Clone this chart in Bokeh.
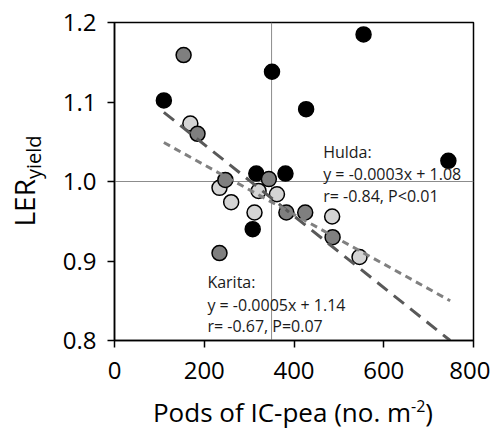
from bokeh.plotting import figure
from bokeh.models import Span, Label, Range1d, FixedTicker, NumeralTickFormatter, Div
from bokeh.layouts import row, column
from bokeh.embed import file_html
from bokeh.resources import INLINE

# ---- data ----
black_x = [110, 351, 555, 427, 744, 381, 316, 308]
black_y = [1.102, 1.138, 1.185, 1.091, 1.026, 1.010, 1.010, 0.940]
dark_x = [154, 185, 247, 344, 383, 425, 486, 234]
dark_y = [1.159, 1.060, 1.002, 1.003, 0.961, 0.961, 0.930, 0.910]
light_x = [169, 234, 260, 321, 362, 312, 485, 546]
light_y = [1.073, 0.992, 0.974, 0.988, 0.984, 0.961, 0.956, 0.905]

fit_x = [110, 748]
karita_fit_y = [1.087, 0.800]
hulda_fit_y = [1.049, 0.850]

x_ticks = [0, 200, 400, 600, 800]
y_ticks = [0.8, 0.9, 1.0, 1.1, 1.2]
ref_x = 350
ref_y = 1.0

hulda_text = ["Hulda:", "y = -0.0003x + 1.08", "r= -0.84, P<0.01"]
hulda_text_x = 465
hulda_text_y = [1.0365, 1.010, 0.982]
karita_text = ["Karita:", "y = -0.0005x + 1.14", "r= -0.67, P=0.07"]
karita_text_x = 207
karita_text_y = [0.874, 0.845, 0.818]

x_label_main = "Pods of IC-pea (no. m"
x_label_sup = "-2"
y_label_main = "LER"
y_label_sub = "yield"

FONT = "Open Sans"
LEFT_W = 50
TOP = 22
FRAME_W = 359
FRAME_H = 318
BOTTOM = 55
RIGHT = 17
FIG_H = TOP + FRAME_H + BOTTOM        # 395
FIG_W = (114 - LEFT_W) + FRAME_W + RIGHT
XLAB_H = 430 - FIG_H                  # 35

p = figure(frame_width=FRAME_W, frame_height=FRAME_H,
           x_range=Range1d(0, 800), y_range=Range1d(0.8, 1.2),
           output_backend="svg", toolbar_location=None,
           min_border_left=114 - LEFT_W, min_border_right=RIGHT,
           min_border_top=TOP, min_border_bottom=BOTTOM)

p.grid.visible = False
p.outline_line_color = "black"
p.outline_line_width = 1.5
p.background_fill_color = "white"
p.border_fill_color = "white"

for ax in (p.xaxis[0], p.yaxis[0]):
    ax.axis_line_color = "black"
    ax.axis_line_width = 1.5
    ax.major_tick_line_color = "black"
    ax.major_tick_line_width = 1.5
    ax.major_tick_in = 0
    ax.major_tick_out = 7
    ax.minor_tick_line_color = None
    ax.major_label_text_font = FONT
    ax.major_label_text_font_size = "24px"
    ax.major_label_text_color = "black"

p.xaxis.ticker = FixedTicker(ticks=x_ticks)
p.yaxis.ticker = FixedTicker(ticks=y_ticks)
p.yaxis.formatter = NumeralTickFormatter(format="0.0")
p.xaxis.major_label_standoff = 14
p.yaxis.major_label_standoff = 11

# reference lines
p.add_layout(Span(location=ref_x, dimension="height", line_color="#8c8c8c", line_width=1, level="underlay"))
p.add_layout(Span(location=ref_y, dimension="width", line_color="#8c8c8c", line_width=1, level="underlay"))

# points
p.scatter(black_x, black_y, size=15, fill_color="black", line_color="black", line_width=1.5)
p.scatter(light_x, light_y, size=15, fill_color="#d4d4d4", line_color="black", line_width=1.5)
p.scatter(dark_x, dark_y, size=15, fill_color="#7f7f7f", line_color="black", line_width=1.5)

# regression lines
p.line(fit_x, karita_fit_y, line_color="#595959", line_width=3, line_dash="13 8")
p.line(fit_x, hulda_fit_y, line_color="#808080", line_width=3, line_dash="7 5")

for t, yy in zip(hulda_text, hulda_text_y):
    p.add_layout(Label(x=hulda_text_x, y=yy, text=t, text_font=FONT, text_font_size="16px",
                       text_color="#1a1a1a", text_baseline="middle", text_align="left"))
for t, yy in zip(karita_text, karita_text_y):
    p.add_layout(Label(x=karita_text_x, y=yy, text=t, text_font=FONT, text_font_size="16px",
                       text_color="#1a1a1a", text_baseline="middle", text_align="left"))

# y axis label (LER with subscript yield), rotated, as real HTML text
y_div = Div(width=LEFT_W, height=FIG_H, margin=(0, 0, 0, 0), text=(
    '<div style="position:relative;width:%dpx;height:%dpx;">'
    '<div style="position:absolute;left:27px;top:181px;transform:translate(-50%%,-50%%) rotate(-90deg);'
    "white-space:nowrap;font-family:'Open Sans';font-size:28px;line-height:1;color:black;\">"
    '%s<sub style="font-size:20px;">%s</sub></div></div>' % (LEFT_W, FIG_H, y_label_main, y_label_sub)))

# x axis label (with superscript), as real HTML text
x_div = Div(width=FIG_W, height=XLAB_H, margin=(0, 0, 0, 0), text=(
    '<div style="position:relative;width:%dpx;height:%dpx;">'
    '<div style="position:absolute;left:%dpx;top:4px;transform:translateX(-50%%);'
    "white-space:nowrap;font-family:'Open Sans';font-size:26px;line-height:26px;color:black;\">"
    '%s<sup style="font-size:16px;line-height:0;">%s</sup>)</div></div>'
    % (FIG_W, XLAB_H, 293 - LEFT_W, x_label_main, x_label_sup)))

layout = row(y_div, column(p, x_div, spacing=0), spacing=0)

open("out.html", "w").write(file_html(layout, INLINE))
